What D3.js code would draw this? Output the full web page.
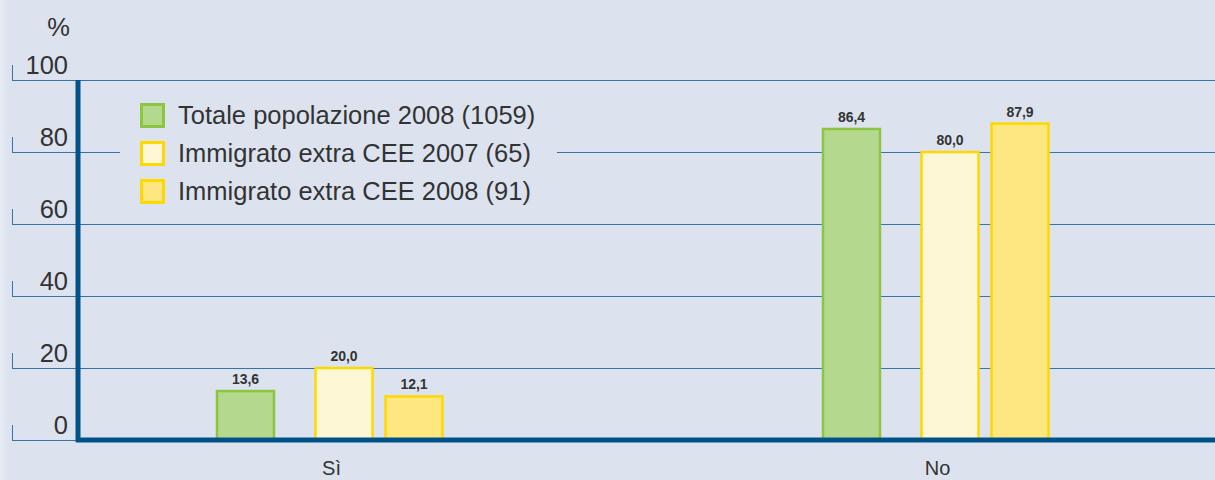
<!DOCTYPE html>
<html>
<head>
<meta charset="utf-8">
<script src="https://cdn.jsdelivr.net/npm/d3@7"></script>
<style>
  html, body { margin: 0; padding: 0; background: #dce3ef; }
  svg { display: block; font-family: "Liberation Sans", Arial, sans-serif; }
</style>
</head>
<body>
<svg id="chart"></svg>
<script>
// data
var categories = ['Sì', 'No'];
var seriesNames = [
  'Totale popolazione 2008 (1059)',
  'Immigrato extra CEE 2007 (65)',
  'Immigrato extra CEE 2008 (91)'
];
var totale2008 = [13.6, 86.4];
var immigrato2007 = [20.0, 80.0];
var immigrato2008 = [12.1, 87.9];
var yTicks = [0, 20, 40, 60, 80, 100];

var seriesValues = [totale2008, immigrato2007, immigrato2008];
var fills = ['#b5d88f', '#fdf7d6', '#fee681'];
var strokes = ['#8cc540', '#ffd800', '#ffd800'];

var W = 1215, H = 480;
var bg = '#dce3ef';
var axisColor = '#02528a';
var gridColor = '#3574a8';
var textColor = '#333333';

var svg = d3.select('#chart').attr('width', W).attr('height', H);

// background, a little lighter at the far left edge
var grad = svg.append('defs').append('linearGradient')
  .attr('id', 'bgGrad').attr('x1', 0).attr('x2', 1).attr('y1', 0).attr('y2', 0);
grad.append('stop').attr('offset', 0).attr('stop-color', '#e6ebf4');
grad.append('stop').attr('offset', 0.008).attr('stop-color', bg);
grad.append('stop').attr('offset', 1).attr('stop-color', bg);
svg.append('rect').attr('width', W).attr('height', H).attr('fill', 'url(#bgGrad)');

// scales
var y = d3.scaleLinear().domain([0, 100]).range([440, 80]);
var x0 = d3.scalePoint().domain(categories).range([329.5, 935.5]);
// bars inside a group are not evenly spaced in the original
var x1 = d3.scaleOrdinal().domain(seriesNames).range([-84, 14.5, 84.5]);
var barW = 57;

// grid lines with small left hooks
var grid = svg.append('g').attr('class', 'grid');
grid.selectAll('line.h')
  .data(yTicks)
  .enter().append('line')
  .attr('class', 'h')
  .attr('x1', 12).attr('x2', W)
  .attr('y1', function (d) { return y(d) + 0.5; })
  .attr('y2', function (d) { return y(d) + 0.5; })
  .attr('stroke', gridColor).attr('stroke-width', 1);
grid.selectAll('line.v')
  .data(yTicks)
  .enter().append('line')
  .attr('class', 'v')
  .attr('x1', 12.5).attr('x2', 12.5)
  .attr('y1', function (d) { return y(d) - 15; })
  .attr('y2', function (d) { return y(d) + 0.5; })
  .attr('stroke', gridColor).attr('stroke-width', 1);

grid.selectAll('text')
  .data(yTicks)
  .enter().append('text')
  .attr('x', 68)
  .attr('y', function (d) { return y(d) - 6; })
  .attr('text-anchor', 'end')
  .attr('font-size', 25.5)
  .attr('fill', textColor)
  .text(function (d) { return d; });

svg.append('text')
  .attr('x', 70).attr('y', 36)
  .attr('text-anchor', 'end')
  .attr('font-size', 25.5)
  .attr('fill', textColor)
  .text('%');

// legend (its box hides the grid line)
var legend = svg.append('g').attr('class', 'legend');
legend.append('rect')
  .attr('x', 120).attr('y', 96)
  .attr('width', 437).attr('height', 116)
  .attr('fill', bg);

var legendRow = d3.scalePoint().domain(seriesNames).range([115, 191]);
var items = legend.selectAll('g.item')
  .data(seriesNames)
  .enter().append('g')
  .attr('class', 'item')
  .attr('transform', function (d) { return 'translate(0,' + legendRow(d) + ')'; });
items.append('rect')
  .attr('x', 141.5).attr('y', -10.5)
  .attr('width', 22).attr('height', 22)
  .attr('fill', function (d, i) { return fills[i]; })
  .attr('stroke', function (d, i) { return strokes[i]; })
  .attr('stroke-width', 3);
items.append('text')
  .attr('x', 178).attr('y', 9)
  .attr('font-size', 25.5)
  .attr('fill', textColor)
  .text(function (d) { return d; });

// bars
var rows = [];
seriesNames.forEach(function (s, si) {
  categories.forEach(function (c, ci) {
    rows.push({ series: s, si: si, cat: c, value: seriesValues[si][ci] });
  });
});

var bars = svg.append('g').attr('class', 'bars');
bars.selectAll('rect')
  .data(rows)
  .enter().append('rect')
  .attr('x', function (d) { return x0(d.cat) + x1(d.series) - barW / 2; })
  .attr('y', function (d) { return y(d.value); })
  .attr('width', barW)
  .attr('height', function (d) { return y(0) - y(d.value); })
  .attr('fill', function (d) { return fills[d.si]; })
  .attr('stroke', function (d) { return strokes[d.si]; })
  .attr('stroke-width', 2.5);

// value labels with a background patch
var labels = svg.append('g').attr('class', 'labels');
var lab = labels.selectAll('g')
  .data(rows)
  .enter().append('g')
  .attr('transform', function (d) {
    return 'translate(' + (x0(d.cat) + x1(d.series)) + ',' + (y(d.value) - 7) + ')';
  });
lab.append('rect')
  .attr('x', -20).attr('y', -15)
  .attr('width', 40).attr('height', 18)
  .attr('fill', bg);
lab.append('text')
  .attr('text-anchor', 'middle')
  .attr('font-size', 14)
  .attr('font-weight', 'bold')
  .attr('fill', textColor)
  .text(function (d) { return d3.format('.1f')(d.value).replace('.', ','); });

// axes
svg.append('line')
  .attr('x1', 78).attr('x2', 78)
  .attr('y1', y(100)).attr('y2', y(0) + 2)
  .attr('stroke', axisColor).attr('stroke-width', 5);
svg.append('line')
  .attr('x1', 76).attr('x2', W)
  .attr('y1', y(0)).attr('y2', y(0))
  .attr('stroke', axisColor).attr('stroke-width', 5);

// category labels
svg.append('g').selectAll('text')
  .data(categories)
  .enter().append('text')
  .attr('x', function (d) { return x0(d) + 2; })
  .attr('y', 475)
  .attr('text-anchor', 'middle')
  .attr('font-size', 20)
  .attr('fill', textColor)
  .text(function (d) { return d; });
</script>
</body>
</html>
